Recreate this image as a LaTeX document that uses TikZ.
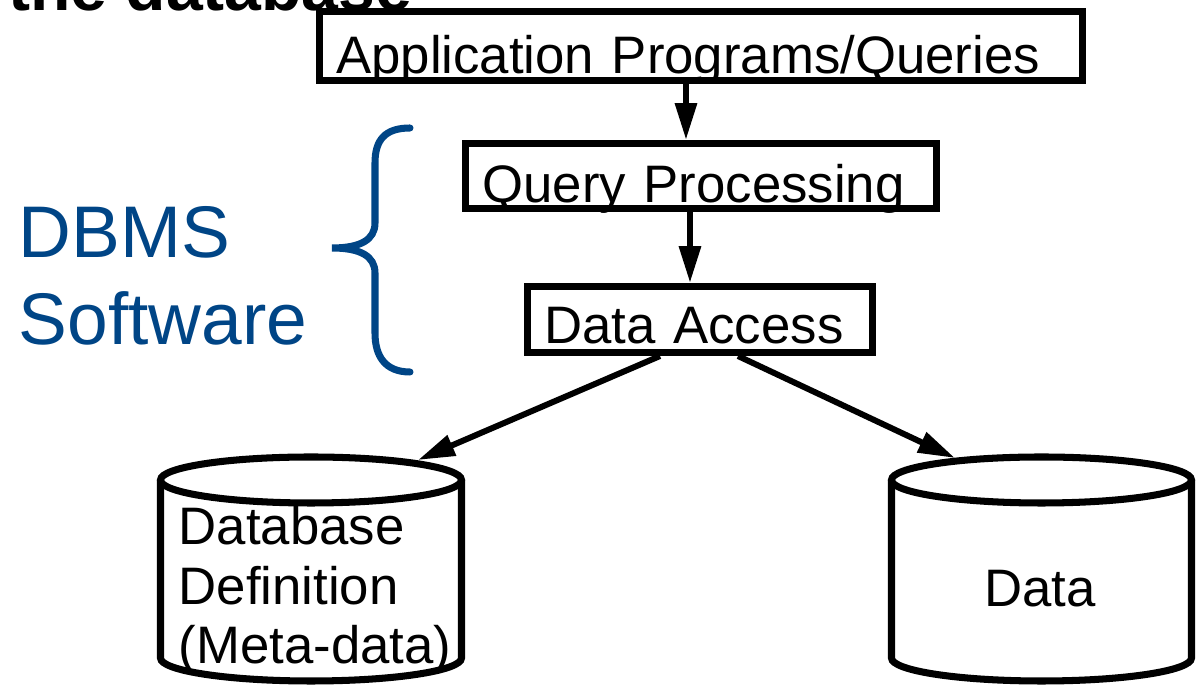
\documentclass[tikz,border=0pt]{standalone}
\usepackage{fontspec}
\setmainfont{Liberation Sans}
\usetikzlibrary{arrows.meta}

\definecolor{dbmsblue}{RGB}{0,69,134}

\begin{document}
\begin{tikzpicture}[x=0.01cm, y=0.01cm,
        box/.style={draw, line width=2pt, inner ysep=0pt, inner xsep=0.17cm, text depth=0pt,
            align=left, font=\fontsize{15}{17}\selectfont},
        arr/.style={-{Triangle[length=10.5pt, width=6pt]}, line width=1.7pt},
        cyl/.style={line width=2pt},
        dbms/.style={text=dbmsblue, align=left, inner sep=0pt,
            font=\fontsize{20.8}{24.75}\selectfont}]
        % Fix the size of the page
        \useasboundingbox (0,0) rectangle (1202,688);
        \clip (0,0) rectangle (1202,688);

        % Title line, cut off at the top
        \node[anchor=base east, inner sep=0pt, font=\bfseries\fontsize{18.8}{20}\selectfont] (title) at (413,677) {the database};

        % Draw the three layers
        \node[box, text width=7.29cm, minimum height=0.69cm, text height=0.54cm] (app) at (701,642) {Application Programs/Queries};
        \node[box, text width=4.37cm, minimum height=0.65cm, text height=0.52cm] (qp) at (701,512) {Query Processing};
        \node[box, text width=3.11cm, minimum height=0.66cm, text height=0.47cm] (da) at (700,368.5) {Data Access};

        % Draw the two cylinders
        \draw[cyl] (160.5,208) -- (160.5,30) arc[start angle=180, end angle=360, x radius=150.5, y radius=23] -- (461.5,208);
        \draw[cyl] (311,208) ellipse [x radius=150.5, y radius=23];
        \draw[cyl] (891.5,208) -- (891.5,30) arc[start angle=180, end angle=360, x radius=150, y radius=23] -- (1191.5,208);
        \draw[cyl] (1041.5,208) ellipse [x radius=150, y radius=23];
        \coordinate (dbtop) at (418,228);
        \coordinate (datatop) at (955,230);

        % Label the cylinders
        \node[anchor=base west, align=left, inner sep=0pt, font=\fontsize{15}{17}\selectfont] (meta) at (178,24) {Database\\Definition\\(Meta-data)};
        \node[anchor=base, inner sep=0pt, font=\fontsize{15}{17}\selectfont] (data) at (1040,81) {Data};

        % Connect the layers
        \draw[arr] ([xshift=-0.15cm]app.south) -- ([xshift=-0.15cm]qp.north);
        \draw[arr] ([xshift=-0.11cm]qp.south) -- ([xshift=-0.1cm]da.north);
        \draw[arr] ([xshift=-0.4cm]da.south) -- (dbtop);
        \draw[arr] ([xshift=0.38cm]da.south) -- (datatop);

        % Brace and label for the DBMS part
        \draw[dbmsblue, line width=2pt, line cap=round] (410,560) .. controls (385,560) and (375,548) .. (375,525) -- (375,465) .. controls (375,448) and (360,440) .. (332,440) .. controls (360,440) and (375,432) .. (375,415) -- (375,355) .. controls (375,332) and (385,316) .. (410,316);
        \node[dbms, anchor=base west] (dbms) at (18,343) {DBMS\\Software};
    \end{tikzpicture}
\end{document}
